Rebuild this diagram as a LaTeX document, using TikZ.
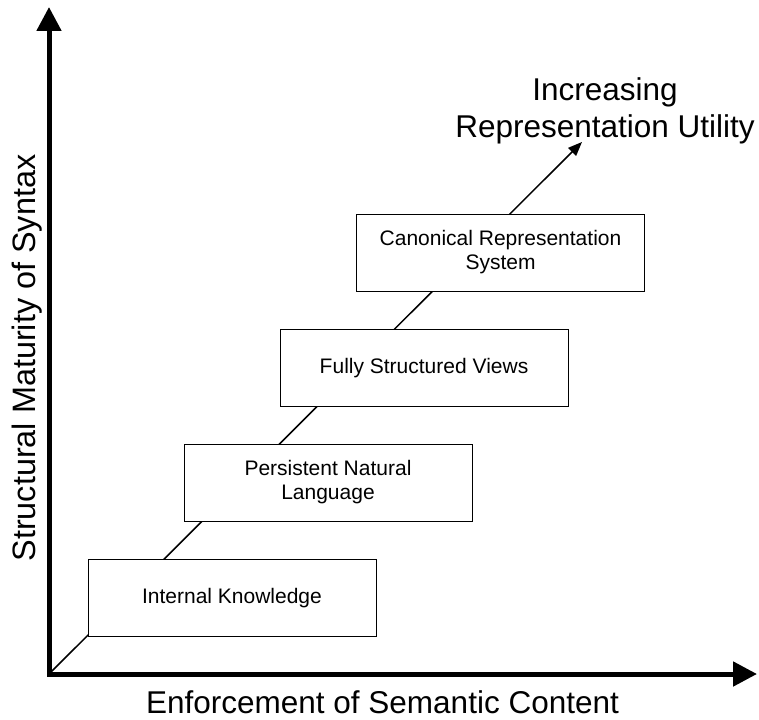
\documentclass[tikz,border=0pt]{standalone}
\usepackage{fontspec}
\setmainfont{Liberation Sans}
\usetikzlibrary{arrows.meta}

\begin{document}
\begin{tikzpicture}[x=0.5pt,y=0.5pt,
  axis/.style={line width=2.5pt,line join=miter,
    {Triangle[length=12pt,width=12pt]}-{Triangle[length=12pt,width=12pt]}},
  trend/.style={line width=0.75pt,-{Triangle[length=7pt,width=5.5pt]}},
  stage/.style={draw,fill=white,line width=0.5pt,minimum width=144pt,
    minimum height=38.5pt,inner sep=0pt,align=center,
    font=\fontsize{10.5}{12}\selectfont},
  axislabel/.style={inner sep=0pt,align=center,
    font=\fontsize{15.75}{18.5}\selectfont}]

\useasboundingbox (0,0) rectangle (759,719);

\coordinate (O)    at (49,45);
\coordinate (ytip) at (49,712);
\coordinate (xtip) at (757,45);
\coordinate (utip) at (582,577);

% axes and the utility trend
\draw[axis] (ytip) -- (O) -- (xtip);
\draw[trend] (O) -- (utip);

\node[axislabel,anchor=base] (xlab) at (382.5,6) {Enforcement of Semantic Content};
\node[axislabel,rotate=90,anchor=base,font=\fontsize{16.2}{18.5}\selectfont] (ylab) at (35,361) {Structural Maturity of Syntax};
\node[axislabel] (ulab) at (605,608.5) {Increasing\\Representation Utility};

% representation stages
\node[stage] (IK)  at (232,121)   {Internal Knowledge};
\node[stage] (PNL) at (328,236.5) {Persistent Natural\\Language};
\node[stage] (FSV) at (424,351)   {Fully Structured Views};
\node[stage] (CRS) at (500.5,466.5) {Canonical Representation\\System};

\end{tikzpicture}
\end{document}
